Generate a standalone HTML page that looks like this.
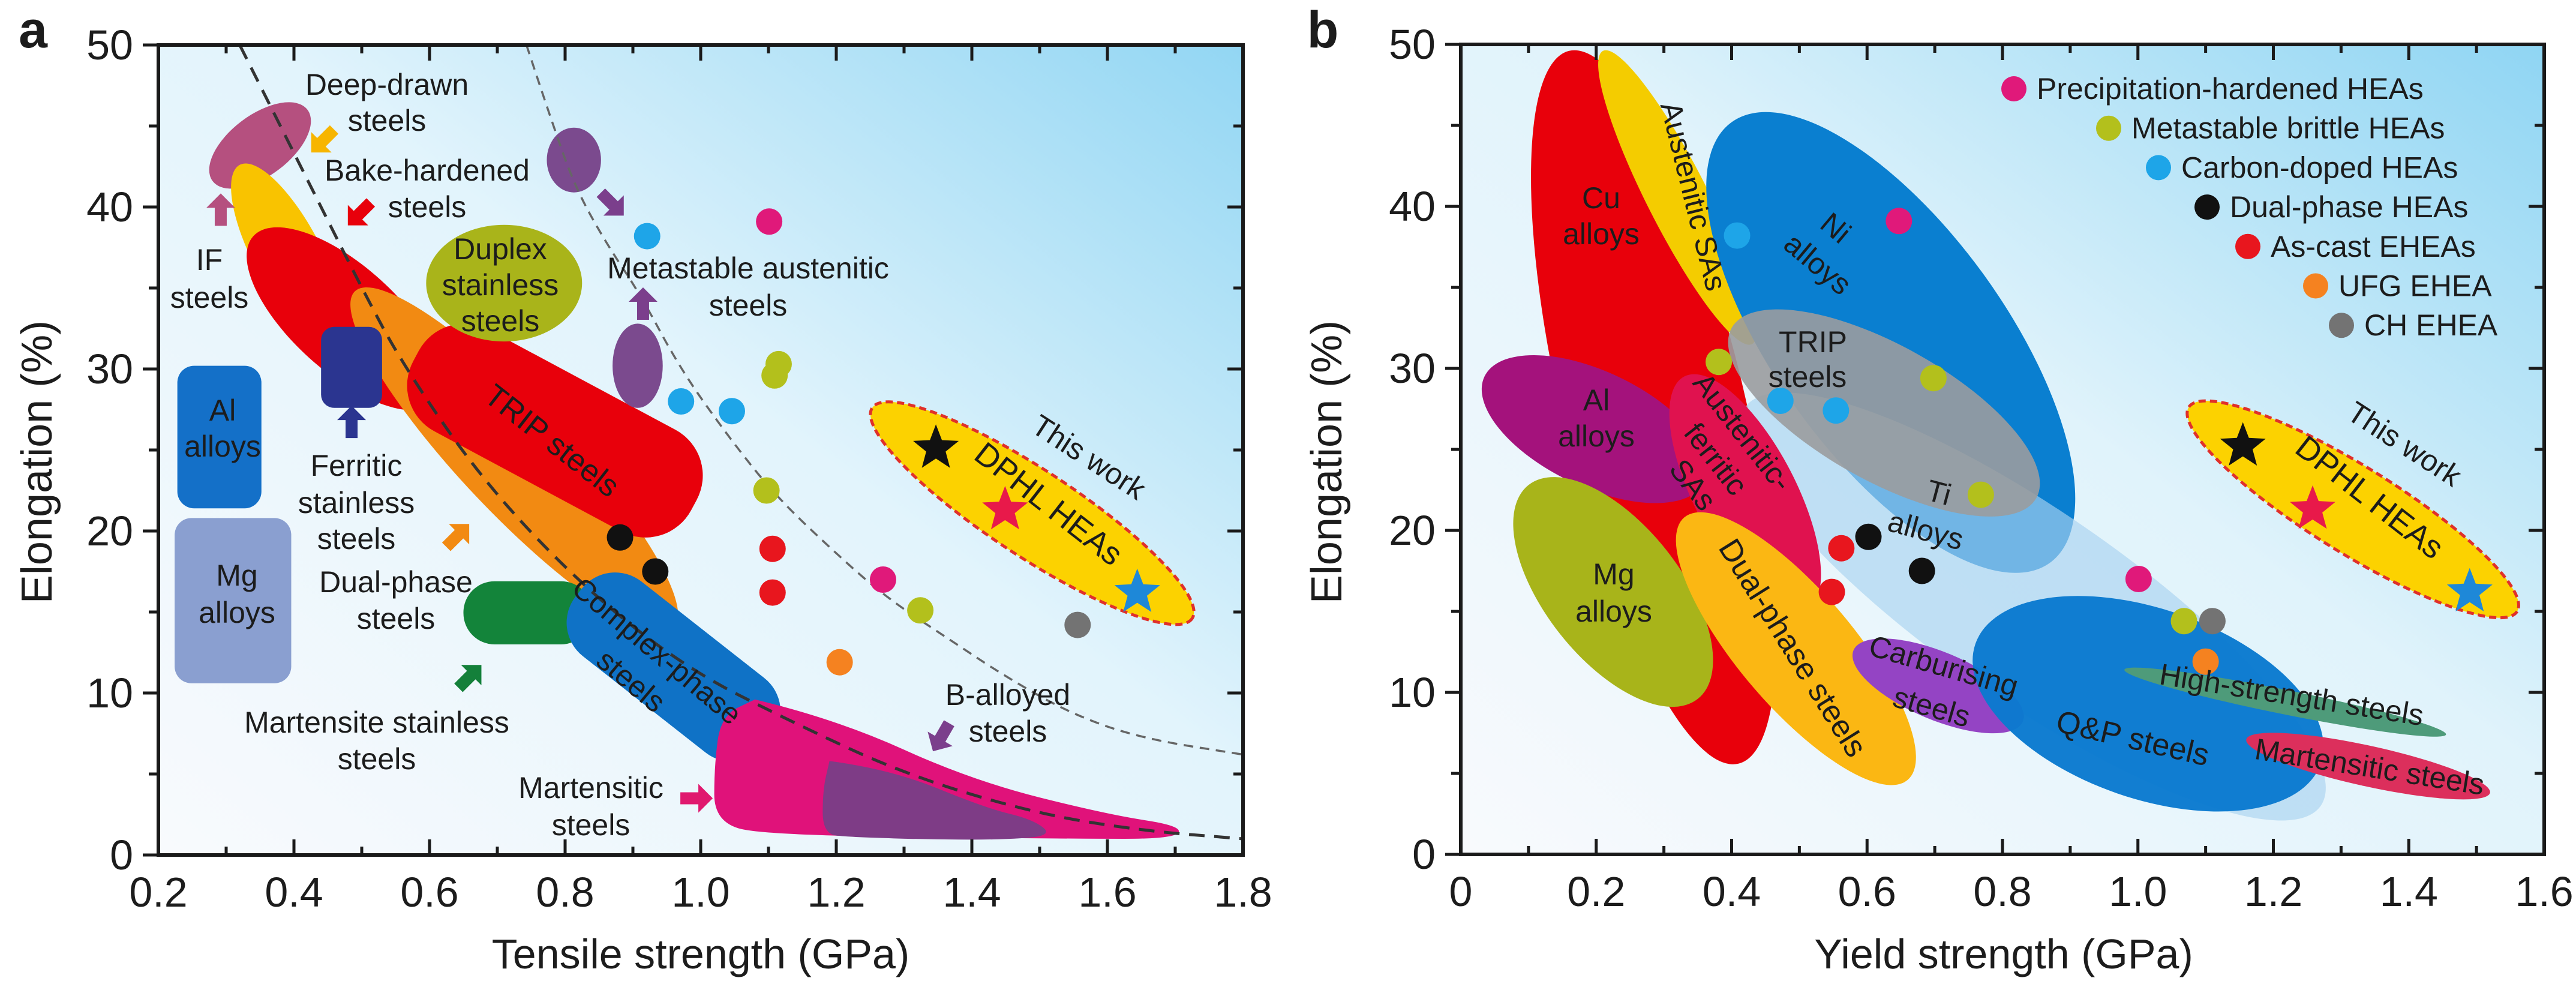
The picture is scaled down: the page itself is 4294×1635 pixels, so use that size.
<!DOCTYPE html>
<html><head><meta charset="utf-8">
<style>
html,body{margin:0;padding:0;background:#fff;}
svg{display:block;}
text{font-family:"Liberation Sans",Arial,sans-serif;fill:#1c1c1c;}
</style></head>
<body>
<svg id="chart" xmlns="http://www.w3.org/2000/svg" width="4294" height="1635" viewBox="0 0 4294 1635">
<defs>
<linearGradient id="bgA" x1="0" y1="1" x2="1" y2="0">
<stop offset="0" stop-color="#f8fafd"/><stop offset="0.55" stop-color="#e2f4fc"/><stop offset="1" stop-color="#92d6f3"/>
</linearGradient>
<linearGradient id="bgB" x1="0" y1="1" x2="1" y2="0">
<stop offset="0" stop-color="#f8fafd"/><stop offset="0.55" stop-color="#e0f3fb"/><stop offset="1" stop-color="#8fd5f3"/>
</linearGradient>
</defs>
</svg>
<script>
// ---------- Panel a data (tensile strength GPa, elongation %) ----------
const aRegionNames = ['al-alloys','mg-alloys','deep-drawn-steels','if-steels','dual-phase-steels','bake-hardened-steels','trip-steels','complex-phase-steels'];
const aRegionColors = ['#1470c8','#8a9fd0','#b5507f','#f9c300','#f28a12','#e8000b','#e8000b','#0f72c6'];
const aRegionEnds = [[0.29,30.2,0.29,21.4],[0.31,20.8,0.31,10.6],[0.28,41.6,0.42,46.0],[0.32,42.6,0.46,31.5],[0.49,34.8,0.96,14.0],[0.34,38.2,0.61,28.0],[0.58,30.8,0.99,21.6],[0.82,16.2,1.10,7.0]];
const aRegionHalf = [0.062,0.086,0.045,0.05,0.078,0.078,0.085,0.07];
const aRegionKind = ['rect','rect','ell','ell','ell','ell','cap','cap'];

const fsBox = [0.44,0.53,32.6,27.6];
const duplex = [0.71,35.3,0.115,3.6];
const msBox = [0.65,0.84,16.9,13.0];
const metaEll = [[0.813,42.9,0.04,2.0],[0.907,30.2,0.037,2.6]];
const martPath = [[1.08,9.6],[1.20,8.4],[1.40,4.6],[1.60,2.5],[1.71,1.8],[1.70,1.0],[1.55,1.0],[1.10,1.2],[1.02,2.0],[1.02,5.5],[1.03,8.6],[1.08,9.6]];
const bPath = [[1.19,5.8],[1.28,5.3],[1.42,2.9],[1.49,2.2],[1.52,1.2],[1.45,0.95],[1.35,0.95],[1.22,1.1],[1.18,1.3],[1.18,4.0],[1.19,5.8]];
const curve1X = [0.32,0.38,0.44,0.50,0.56,0.68,0.83,0.98,1.13,1.30,1.49,1.65,1.8];
const curve1Y = [50,45,40,35,30.3,23,16.4,11.5,8.3,5.0,2.6,1.5,1.0];
const curve2X = [0.743,0.78,0.815,0.86,0.911,0.97,1.043,1.11,1.187,1.27,1.367,1.45,1.547,1.65,1.8];
const curve2Y = [50,45.3,41.2,37.8,34.6,30.0,25.7,22.2,19.1,16.0,13.3,11.0,8.7,7.2,6.2];

const ptCats = ['precip','metastable','carbon','dual','ascast','ufg','ch'];
const ptColors = ['#e0197a','#b3c01c','#1ea5e8','#111111','#e8161e','#f58220','#737373'];
const aPtX = [[1.101,1.269],[1.115,1.109,1.097,1.324],[0.921,0.971,1.046],[0.881,0.933],[1.106,1.106],[1.205],[1.556]];
const aPtY = [[39.1,17.0],[30.3,29.6,22.5,15.1],[38.2,28.0,27.4],[19.6,17.5],[18.9,16.2],[11.9],[14.2]];
const aStarX = [1.347,1.449,1.644];
const aStarY = [25.1,21.3,16.2];
const starColors = ['#111111','#e8194a','#1e88d8'];
const aDphl = [1.253,27.6,1.725,14.6];

const aArrowX = [0.443,0.292,0.497,0.485,0.641,0.659,0.869,0.915,1.355,0.993];
const aArrowY = [44.1,39.8,39.6,26.7,19.7,11.0,40.2,34.0,7.3,3.5];
const aArrowDir = [135,-90,135,-90,-45,-45,45,-90,120,0];
const aArrowCol = ['#f7b500','#b5507f','#e8000b','#2b3590','#f28a12','#14803a','#7b3f8c','#7b3f8c','#7b3f8c','#e0196e'];

// ---------- Panel b data (yield strength GPa, elongation %) ----------
const bRegionNames = ['cu-alloys','austenitic-sas','ni-alloys','ti-alloys','trip-steels','al-alloys','austenitic-ferritic-sas','mg-alloys','dual-phase-steels','carburising-steels','qp-steels','high-strength-steels','martensitic-steels'];
const bRegionColors = ['#e8000b','#f4cc00','#0a7fd0','#a9d2ef','#9a9c9e','#a4127c','#e0124f','#a8b41a','#fbb713','#9444c4','#0a7ad0','#4e9b7a','#dc2f5c'];
const bRegionEnds = [[0.16,49.6,0.41,5.6],[0.21,49.6,0.43,31.5],[0.40,45.2,0.87,18.0],[0.42,27.6,1.27,3.0],[0.40,32.5,0.85,22.0],[0.035,29.5,0.36,23.0],[0.33,29.5,0.51,15.0],[0.10,22.8,0.35,9.6],[0.33,20.8,0.66,4.6],[0.58,12.6,0.83,8.2],[0.76,13.0,1.27,5.6],[0.98,11.4,1.455,7.4],[1.16,7.1,1.52,3.8]];
const bRegionHalf = [0.135,0.045,0.17,0.14,0.1,0.085,0.075,0.1,0.085,0.05,0.14,0.018,0.03];
const bRegionOpacity = [1,1,1,0.65,0.9,1,1,1,1,1,0.97,1,1];

const bPtX = [[0.647,1.001],[0.381,0.698,0.768,1.068],[0.408,0.472,0.554],[0.602,0.681],[0.562,0.548],[1.10],[1.110]];
const bPtY = [[39.1,17.0],[30.4,29.4,22.2,14.4],[38.2,28.0,27.4],[19.6,17.5],[18.9,16.2],[11.9],[14.4]];
const bStarX = [1.155,1.258,1.49];
const bStarY = [25.2,21.3,16.2];
const bDphl = [1.075,27.6,1.56,15.0];

const legendLabels = ['Precipitation-hardened HEAs','Metastable brittle HEAs','Carbon-doped HEAs','Dual-phase HEAs','As-cast EHEAs','UFG EHEA','CH EHEA'];

const aXTicks = ['0.2','0.4','0.6','0.8','1.0','1.2','1.4','1.6','1.8'];
const bXTicks = ['0','0.2','0.4','0.6','0.8','1.0','1.2','1.4','1.6'];
const yTicks = ['0','10','20','30','40','50'];

// ---------- scales ----------
const A = {x0:264,x1:2072,y0:75,y1:1425,xmin:0.2,xmax:1.8};
const B = {x0:2435,x1:4241,y0:74,y1:1424,xmin:0,xmax:1.6};
function sx(P,v){return P.x0+(v-P.xmin)/(P.xmax-P.xmin)*(P.x1-P.x0);}
function sy(P,v){return P.y1-v/50*(P.y1-P.y0);}
function gx(P){return (P.x1-P.x0)/(P.xmax-P.xmin);}
const NS='http://www.w3.org/2000/svg';
const svg=document.getElementById('chart');
function mk(tag,parent){const e=document.createElementNS(NS,tag);(parent||svg).appendChild(e);return e;}
function grp(parent){return mk('g',parent);}

function txt(parent,s,x,y,size,rot,anchor,weight){
  const t=mk('text',parent);
  t.setAttribute('x',x);t.setAttribute('y',y);
  t.setAttribute('font-size',size);
  t.setAttribute('text-anchor',anchor||'middle');
  t.setAttribute('dominant-baseline','central');
  if(weight)t.setAttribute('font-weight',weight);
  if(rot)t.setAttribute('transform','rotate('+rot+' '+x+' '+y+')');
  t.textContent=s;return t;
}
function region(parent,P,ends,half,kind,color,op){
  const x1=sx(P,ends[0]),y1=sy(P,ends[1]),x2=sx(P,ends[2]),y2=sy(P,ends[3]);
  const cx=(x1+x2)/2,cy=(y1+y2)/2;
  const hw=half*gx(P);
  let e;
  if(kind==='rect'){
    e=mk('rect',parent);
    e.setAttribute('x',cx-hw);e.setAttribute('y',Math.min(y1,y2));
    e.setAttribute('width',2*hw);e.setAttribute('height',Math.abs(y2-y1));
    e.setAttribute('rx',28);
  } else {
    const L=Math.hypot(x2-x1,y2-y1)/2;
    const ang=Math.atan2(y2-y1,x2-x1)*180/Math.PI;
    if(kind==='cap'){
      e=mk('rect',parent);
      e.setAttribute('x',cx-L);e.setAttribute('y',cy-hw);
      e.setAttribute('width',2*L);e.setAttribute('height',2*hw);e.setAttribute('rx',hw*0.9);
    } else {
      e=mk('ellipse',parent);
      e.setAttribute('cx',cx);e.setAttribute('cy',cy);
      e.setAttribute('rx',L);e.setAttribute('ry',hw);
    }
    e.setAttribute('transform','rotate('+ang+' '+cx+' '+cy+')');
  }
  e.setAttribute('fill',color);
  if(op!==undefined)e.setAttribute('opacity',op);
  return e;
}
function starPts(cx,cy,R,r){let p=[];for(let i=0;i<10;i++){const a=-Math.PI/2+i*Math.PI/5;const rr=i%2?r:R;p.push((cx+rr*Math.cos(a)).toFixed(1)+','+(cy+rr*Math.sin(a)).toFixed(1));}return p.join(' ');}
function smoothPath(P,pts){
  let d='M'+sx(P,pts[0][0])+' '+sy(P,pts[0][1]);
  for(let i=1;i<pts.length-1;i++){
    const mx=(sx(P,pts[i][0])+sx(P,pts[i+1][0]))/2,my=(sy(P,pts[i][1])+sy(P,pts[i+1][1]))/2;
    d+=' Q'+sx(P,pts[i][0])+' '+sy(P,pts[i][1])+' '+mx+' '+my;
  }
  const l=pts[pts.length-1];d+=' L'+sx(P,l[0])+' '+sy(P,l[1]);return d;
}
function frame(P,bgId,name){
  const g=grp();
  
  
  const bg=mk('rect',g);
  bg.setAttribute('x',P.x0);bg.setAttribute('y',P.y0);bg.setAttribute('width',P.x1-P.x0);bg.setAttribute('height',P.y1-P.y0);
  bg.setAttribute('fill','url(#'+bgId+')');
  
  
  return g;
}
function axesOverlay(P,xt,name){
  const g=grp();
  
  
  const f=mk('rect',g);
  f.setAttribute('x',P.x0);f.setAttribute('y',P.y0);f.setAttribute('width',P.x1-P.x0);f.setAttribute('height',P.y1-P.y0);
  f.setAttribute('fill','none');f.setAttribute('stroke','#1a1a1a');f.setAttribute('stroke-width',6);
  const n=(xt.length-1)*2;
  for(let i=0;i<=n;i++){
    const v=P.xmin+(P.xmax-P.xmin)*i/n,x=sx(P,v),len=i%2?14:26;
    for(const [yy,dir] of [[P.y1,-1],[P.y0,1]]){const l=mk('line',g);l.setAttribute('x1',x);l.setAttribute('x2',x);l.setAttribute('y1',yy);l.setAttribute('y2',yy+dir*len);l.setAttribute('stroke','#1a1a1a');l.setAttribute('stroke-width',5);}
  }
  for(let i=0;i<=10;i++){
    const y=sy(P,i*5),len=i%2?16:26;
    const l=mk('line',g);l.setAttribute('x1',P.x0-len);l.setAttribute('x2',P.x0);l.setAttribute('y1',y);l.setAttribute('y2',y);l.setAttribute('stroke','#1a1a1a');l.setAttribute('stroke-width',5);
    const r=mk('line',g);r.setAttribute('x1',P.x1);r.setAttribute('x2',P.x1-len);r.setAttribute('y1',y);r.setAttribute('y2',y);r.setAttribute('stroke','#1a1a1a');r.setAttribute('stroke-width',5);
  }
  xt.forEach((s,i)=>{const t=txt(g,s,sx(P,P.xmin+(P.xmax-P.xmin)*i/(xt.length-1)),P.y1+62,70);
    
    });
  yTicks.forEach((s,i)=>{const t=txt(g,s,P.x0-42,sy(P,i*10),70,0,'end');
    
    });
}

// ================= PANEL A =================
frame(A,'bgA','panel-a');
const ga=grp();


function aReg(i){const e=region(ga,A,aRegionEnds[i],aRegionHalf[i],aRegionKind[i],aRegionColors[i]);
  
  }
[0,1,2,3,5,4].forEach(aReg);
{const r=mk('rect',ga);const x=sx(A,fsBox[0]),y=sy(A,fsBox[2]);
 r.setAttribute('x',x);r.setAttribute('y',y);r.setAttribute('width',sx(A,fsBox[1])-x);r.setAttribute('height',sy(A,fsBox[3])-y);r.setAttribute('rx',22);r.setAttribute('fill','#2b3590');
 
 }
aReg(6);
{const e=mk('ellipse',ga);e.setAttribute('cx',sx(A,duplex[0]));e.setAttribute('cy',sy(A,duplex[1]));e.setAttribute('rx',duplex[2]*gx(A));e.setAttribute('ry',duplex[3]*27);e.setAttribute('fill','#a9b41a');
 
 }
{const r=mk('rect',ga);const x=sx(A,msBox[0]),y=sy(A,msBox[2]);
 r.setAttribute('x',x);r.setAttribute('y',y);r.setAttribute('width',sx(A,msBox[1])-x);r.setAttribute('height',sy(A,msBox[3])-y);r.setAttribute('rx',52);r.setAttribute('fill','#13843a');
 
 }
aReg(7);
{const p=mk('path',ga);p.setAttribute('d',smoothPath(A,martPath)+'Z');p.setAttribute('fill','#e0127a');
 
 }
{const p=mk('path',ga);p.setAttribute('d',smoothPath(A,bPath)+'Z');p.setAttribute('fill','#7e3c86');
 
 }
metaEll.forEach(m=>{const e=mk('ellipse',ga);e.setAttribute('cx',sx(A,m[0]));e.setAttribute('cy',sy(A,m[1]));e.setAttribute('rx',m[2]*gx(A));e.setAttribute('ry',m[3]*27);e.setAttribute('fill','#7b4a8e');
 
 });
{const p=mk('path');p.setAttribute('d',smoothPath(A,curve1X.map((x,i)=>[x,curve1Y[i]])));p.setAttribute('fill','none');p.setAttribute('stroke','#333');p.setAttribute('stroke-width',5);p.setAttribute('stroke-dasharray','26 16');
 
 }
{const p=mk('path');p.setAttribute('d',smoothPath(A,curve2X.map((x,i)=>[x,curve2Y[i]])));p.setAttribute('fill','none');p.setAttribute('stroke','#666');p.setAttribute('stroke-width',3.5);p.setAttribute('stroke-dasharray','16 11');
 
 }

function dphl(P,e,name){
  const x1=sx(P,e[0]),y1=sy(P,e[1]),x2=sx(P,e[2]),y2=sy(P,e[3]);
  const cx=(x1+x2)/2,cy=(y1+y2)/2,L=Math.hypot(x2-x1,y2-y1)/2,ang=Math.atan2(y2-y1,x2-x1)*180/Math.PI;
  const el=mk('ellipse');el.setAttribute('cx',cx);el.setAttribute('cy',cy);el.setAttribute('rx',L);el.setAttribute('ry',72);
  el.setAttribute('transform','rotate('+ang+' '+cx+' '+cy+')');el.setAttribute('fill','#fcd200');el.setAttribute('stroke','#e0302a');el.setAttribute('stroke-width',5);el.setAttribute('stroke-dasharray','12 7');
  
  
}
function points(P,X,Y,name){
  ptCats.forEach((c,ci)=>{X[ci].forEach((v,j)=>{const e=mk('circle');e.setAttribute('cx',sx(P,v));e.setAttribute('cy',sy(P,Y[ci][j]));e.setAttribute('r',22);e.setAttribute('fill',ptColors[ci]);
    
    });});
}
function stars(P,X,Y,name){
  X.forEach((v,i)=>{const s=mk('polygon');s.setAttribute('points',starPts(sx(P,v),sy(P,Y[i]),40,17));s.setAttribute('fill',starColors[i]);
    
    });
}
points(A,aPtX,aPtY,'panel-a');
dphl(A,aDphl,'panel-a-dphl-heas-region');
stars(A,aStarX,aStarY,'panel-a');
aArrowX.forEach((v,i)=>{
  const x=sx(A,v),y=sy(A,aArrowY[i]);
  const p=mk('polygon');
  p.setAttribute('points','-26,-10 4,-10 4,-24 28,0 4,24 4,10 -26,10');
  p.setAttribute('transform','translate('+x+' '+y+') rotate('+aArrowDir[i]+')');
  p.setAttribute('fill',aArrowCol[i]);
  
  
});
axesOverlay(A,aXTicks,'panel-a');
const la=grp();


[['Deep-drawn',645,141],['steels',645,201],['Bake-hardened',712,284],['steels',712,345],['IF',349,433],['steels',349,496],
 ['Duplex',834,415],['stainless',834,475],['steels',834,535],['Metastable  austenitic',1247,447],['steels',1247,509],
 ['Al',371,684],['alloys',371,744],['Mg',395,959],['alloys',395,1021],['Ferritic',594,776],['stainless',594,838],['steels',594,898],
 ['Dual-phase',660,970],['steels',660,1031],['Martensite stainless',628,1204],['steels',628,1265],['Martensitic',985,1313],['steels',985,1375],
 ['B-alloyed',1680,1158],['steels',1680,1219]].forEach(a=>txt(la,a[0],a[1],a[2],50));
txt(la,'TRIP steels',920,735,52,38);
txt(la,'Complex-phase',1095,1085,50,40);
txt(la,'steels',1052,1135,50,40);
txt(la,'This work',1815,762,50,33);
txt(la,'DPHL HEAs',1748,840,54,38);
{const t=txt(svg,'Tensile strength (GPa)',1168,1590,70);
 
 }
{const t=txt(svg,'Elongation (%)',62,770,72,-90);
 
 }
{const t=txt(svg,'a',55,50,86,0,'middle','bold');
 
 }

// ================= PANEL B =================
frame(B,'bgB','panel-b');
const gb=grp();


bRegionNames.forEach((n,i)=>{const e=region(gb,B,bRegionEnds[i],bRegionHalf[i],'ell',bRegionColors[i],bRegionOpacity[i]);
  
  });
points(B,bPtX,bPtY,'panel-b');
dphl(B,bDphl,'panel-b-dphl-heas-region');
stars(B,bStarX,bStarY,'panel-b');
axesOverlay(B,bXTicks,'panel-b');
const lb=grp();


[['Cu',2669,330],['alloys',2669,390],['TRIP',3022,570],['steels',3013,628],['Al',2661,667],['alloys',2661,727],
 ['Mg',2690,957],['alloys',2690,1019]].forEach(a=>txt(lb,a[0],a[1],a[2],50));
txt(lb,'Austenitic SAs',2823,327,50,76);
txt(lb,'Ni',3060,380,50,40);
txt(lb,'alloys',3030,440,50,40);
txt(lb,'Austenitic-',2905,720,50,52);
txt(lb,'ferritic',2860,765,50,52);
txt(lb,'SAs',2822,808,50,52);
txt(lb,'Ti',3232,821,50,15);
txt(lb,'alloys',3210,884,50,15);
txt(lb,'Dual-phase steels',2988,1080,52,58);
txt(lb,'Carburising',3240,1110,50,16);
txt(lb,'steels',3220,1178,50,16);
txt(lb,'Q&P steels',3555,1231,52,13);
txt(lb,'High-strength steels',3820,1158,50,9);
txt(lb,'Martensitic steels',3950,1278,50,9);
txt(lb,'This work',4008,740,50,33);
txt(lb,'DPHL HEAs',3950,829,54,38);
const lg=grp();


const legX=[3357,3515,3598,3679,3747,3860,3903];
legendLabels.forEach((s,i)=>{
  const y=148+i*65.7;
  const c=mk('circle',lg);c.setAttribute('cx',legX[i]);c.setAttribute('cy',y);c.setAttribute('r',21);c.setAttribute('fill',ptColors[i]);
  
  
  const t=txt(lg,s,legX[i]+38,y,50,0,'start');
  
  
});
{const t=txt(svg,'Yield strength (GPa)',3340,1590,70);
 
 }
{const t=txt(svg,'Elongation (%)',2212,770,72,-90);
 
 }
{const t=txt(svg,'b',2205,50,86,0,'middle','bold');
 
 }
</script>
</body></html>
